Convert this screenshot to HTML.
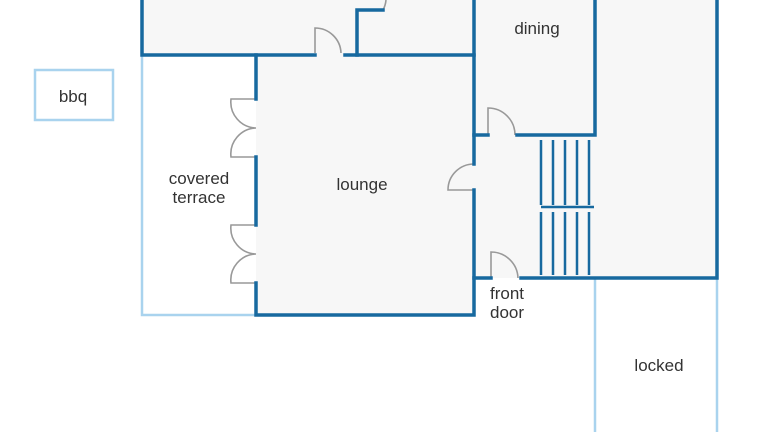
<!DOCTYPE html><html><head><style>body{margin:0;background:#fff}svg text{font-family:"Liberation Sans",sans-serif;font-size:17px;fill:#333;text-anchor:middle}</style></head><body>
<svg width="768" height="432" viewBox="0 0 768 432">
<g fill="#f7f7f7">
<rect x="142" y="0" width="332" height="55"/>
<rect x="256" y="55" width="218" height="260"/>
<rect x="474" y="0" width="243" height="278"/>
</g>
<g stroke="#a9d3ee" stroke-width="2.5" fill="none">
<path d="M142 55V315H256"/>
<path d="M595 278V432M717 278V432"/>
<rect x="35" y="70" width="78" height="50"/>
</g>
<g stroke="#999" stroke-width="1.6" fill="none">
<path d="M315 53V28A26 26 0 0 1 341 53"/>
<path d="M357 10H383A26 26 0 0 0 386 0"/>
<path d="M256 99H231A26 26 0 0 0 256 128A26 26 0 0 0 231 157H256"/>
<path d="M256 225H231A26 26 0 0 0 256 254A26 26 0 0 0 231 283H256"/>
<path d="M488 135V108A27 27 0 0 1 515 135"/>
<path d="M474 190H448A26 26 0 0 1 474 164"/>
<path d="M491 278V252A27 27 0 0 1 518 278"/>
</g>
<g stroke="#17699f" stroke-width="3.5" fill="none" stroke-linecap="square">
<path d="M142 0V55H315M345 55H474"/>
<path d="M357 55V10H383"/>
<path d="M256 55V99M256 157V225M256 283V315H474V190M474 164V0"/>
<path d="M474 135H488M517 135H595V0"/>
<path d="M717 0V278H521M491 278H474"/>
</g>
<g stroke="#17699f" stroke-width="2.5">
<path d="M541 140V205M553 140V205M565 140V205M577 140V205M589 140V205M541 212V275M553 212V275M565 212V275M577 212V275M589 212V275M541 207H594"/>
</g>
<text x="537" y="34">dining</text>
<text x="199" y="184">covered</text>
<text x="199" y="203">terrace</text>
<text x="362" y="190">lounge</text>
<text x="507" y="299">front</text>
<text x="507" y="318">door</text>
<text x="659" y="371">locked</text>
<text x="73" y="102">bbq</text>
</svg></body></html>
